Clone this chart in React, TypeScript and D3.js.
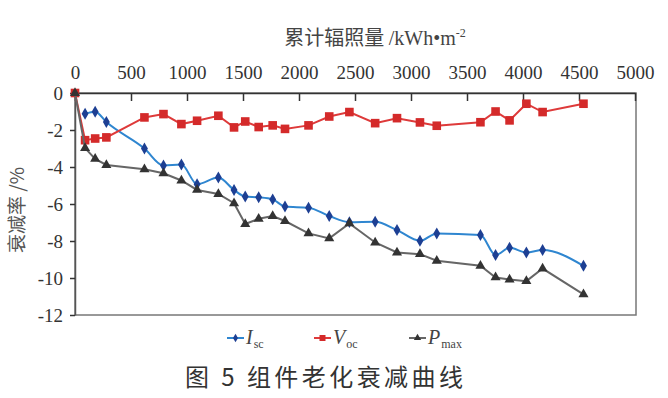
import React, { useEffect, useRef } from 'react';
import * as d3 from 'd3';

// cumulative irradiation (kWh/m2) at each measurement
const irradiation = [0, 90, 180, 280, 620, 790, 950, 1090, 1280, 1420, 1520, 1640, 1765, 1875, 2085, 2270,
    2450, 2680, 2875, 3080, 3230, 3620, 3755, 3880, 4030, 4175, 4540];
const isc = [null, -1.12, -1.01, -1.57, -3.0, -3.92, -3.87, -4.93, -4.57, -5.24, -5.6, -5.64, -5.75, -6.14, -6.2,
    -6.65, -6.98, -6.96, -7.41, -7.99, -7.59, -7.68, -8.76, -8.37, -8.62, -8.49, -9.34];
const voc = [0, -2.55, -2.46, -2.4, -1.32, -1.14, -1.68, -1.5, -1.23, -1.86, -1.54, -1.84, -1.75, -1.94, -1.75,
    -1.27, -1.03, -1.63, -1.36, -1.59, -1.77, -1.58, -1.0, -1.48, -0.58, -1.03, -0.58];
const pmax = [0, -2.98, -3.56, -3.89, -4.12, -4.34, -4.73, -5.24, -5.46, -5.96, -7.08, -6.8, -6.65, -6.92, -7.59,
    -7.86, -7.05, -8.08, -8.62, -8.71, -9.07, -9.34, -9.97, -10.08, -10.17, -9.49, -10.88];
const xTicks = [0, 500, 1000, 1500, 2000, 2500, 3000, 3500, 4000, 4500, 5000];
const yTicks = [0, -2, -4, -6, -8, -10, -12];

const serif = "'Times New Roman', 'Liberation Serif', 'DejaVu Serif', serif";
const cjk = "'Noto Sans CJK SC', sans-serif";

const series = [
    { name: 'I', sub: 'sc', values: isc, line: '#2f86d0', marker: '#1d3f93', shape: 'diamond', lx: 227 },
    { name: 'V', sub: 'oc', values: voc, line: '#de3a3a', marker: '#d42a2a', shape: 'square', lx: 314 },
    { name: 'P', sub: 'max', values: pmax, line: '#666666', marker: '#333333', shape: 'triangle', lx: 409 },
];

const App = () => {
    const ref = useRef(null);

    useEffect(() => {
        const svg = d3.select(ref.current);
        svg.selectAll('*').remove();

        const left = 75, right = 635, top = 93, bottom = 315;
        const x = d3.scaleLinear().domain([0, 5000]).range([left, right]);
        const y = d3.scaleLinear().domain([0, -12]).range([top, bottom]);

        svg.append('rect').attr('width', 668).attr('height', 398).attr('fill', '#fff');

        // title of x axis (top)
        const title = svg.append('text')
            .attr('x', 375).attr('y', 45)
            .attr('text-anchor', 'middle')
            .attr('fill', '#444')
            .attr('font-size', 20);
        title.append('tspan').attr('font-family', cjk).text('累计辐照量 ');
        title.append('tspan').attr('font-family', serif).text('/kWh•m');
        title.append('tspan').attr('font-family', serif).attr('font-size', 12)
            .attr('dy', -8).text('-2');

        // frame
        svg.append('rect')
            .attr('x', left).attr('y', top)
            .attr('width', right - left + 1).attr('height', bottom - top)
            .attr('fill', 'none').attr('stroke', '#777').attr('stroke-width', 1.5);

        const fmt = d => String(d);

        // x ticks at top, pointing in
        const xAxis = svg.append('g').attr('transform', `translate(0,${top})`)
            .call(d3.axisTop(x).tickValues(xTicks).tickFormat(fmt)
                .tickSizeInner(-8).tickSizeOuter(0).tickPadding(14));
        xAxis.attr('font-family', serif).attr('font-size', 19);
        xAxis.select('.domain').attr('stroke', '#333').attr('stroke-width', 1.5);
        xAxis.selectAll('line').attr('stroke', '#333').attr('stroke-width', 1.5);
        xAxis.selectAll('text').attr('fill', '#333');

        const yAxis = svg.append('g').attr('transform', `translate(${left},0)`)
            .call(d3.axisLeft(y).tickValues(yTicks).tickFormat(fmt)
                .tickSize(5).tickSizeOuter(0).tickPadding(7));
        yAxis.attr('font-family', serif).attr('font-size', 19);
        yAxis.select('.domain').attr('stroke', '#555').attr('stroke-width', 1.5);
        yAxis.selectAll('line').attr('stroke', '#333').attr('stroke-width', 1.5);
        yAxis.selectAll('text').attr('fill', '#333');

        // y axis label
        svg.append('text')
            .attr('transform', 'translate(24,210) rotate(-90)')
            .attr('text-anchor', 'middle')
            .attr('fill', '#555')
            .attr('font-size', 19)
            .attr('font-family', cjk)
            .text('衰减率 /%');

        const drawMarker = (g, shape, color, size) => {
            if (shape === 'square') {
                g.append('rect').attr('x', -size).attr('y', -size)
                    .attr('width', size * 2).attr('height', size * 2).attr('fill', color);
            } else if (shape === 'diamond') {
                g.append('path').attr('d', d3.symbol(d3.symbolDiamond, size * size * 3.2)()).attr('fill', color);
            } else {
                g.append('path').attr('d', d3.symbol(d3.symbolTriangle, size * size * 3.4)()).attr('fill', color);
            }
        };

        series.forEach(s => {
            const pts = irradiation.map((v, i) => [v, s.values[i]]).filter(p => p[1] !== null);
            const line = d3.line()
                .x(d => x(d[0])).y(d => y(d[1]))
                .curve(s.shape === 'diamond' ? d3.curveMonotoneX : d3.curveLinear);
            svg.append('path').datum(pts)
                .attr('d', line)
                .attr('fill', 'none')
                .attr('stroke', s.line)
                .attr('stroke-width', 2);
            pts.forEach(p => {
                const g = svg.append('g').attr('transform', `translate(${x(p[0])},${y(p[1])})`);
                drawMarker(g, s.shape, s.marker, s.shape === 'square' ? 4.3 : 3.6);
            });

            // legend
            const ly = 338;
            svg.append('line').attr('x1', s.lx).attr('x2', s.lx + 17)
                .attr('y1', ly).attr('y2', ly).attr('stroke', s.line).attr('stroke-width', 2);
            const lg = svg.append('g').attr('transform', `translate(${s.lx + 8.5},${ly})`);
            drawMarker(lg, s.shape, s.marker, s.shape === 'square' ? 3 : 2.6);
            const t = svg.append('text').attr('x', s.lx + 19).attr('y', ly + 6)
                .attr('font-family', serif).attr('fill', '#444');
            t.append('tspan').attr('font-size', 20).attr('font-style', 'italic').text(s.name);
            t.append('tspan').attr('font-size', 12).attr('dy', 4).attr('dx', 1).text(s.sub);
        });

        // caption
        svg.append('text')
            .attr('x', 185).attr('y', 386)
            .attr('font-family', cjk)
            .attr('font-size', 24)
            .attr('fill', '#333')
            .attr('textLength', 278)
            .text('图 5 组件老化衰减曲线');
    }, []);

    return (
        <div style={{ position: 'absolute', left: 0, top: 0 }}>
            <svg ref={ref} width={668} height={398} style={{ display: 'block' }} />
        </div>
    );
};

export default App;
